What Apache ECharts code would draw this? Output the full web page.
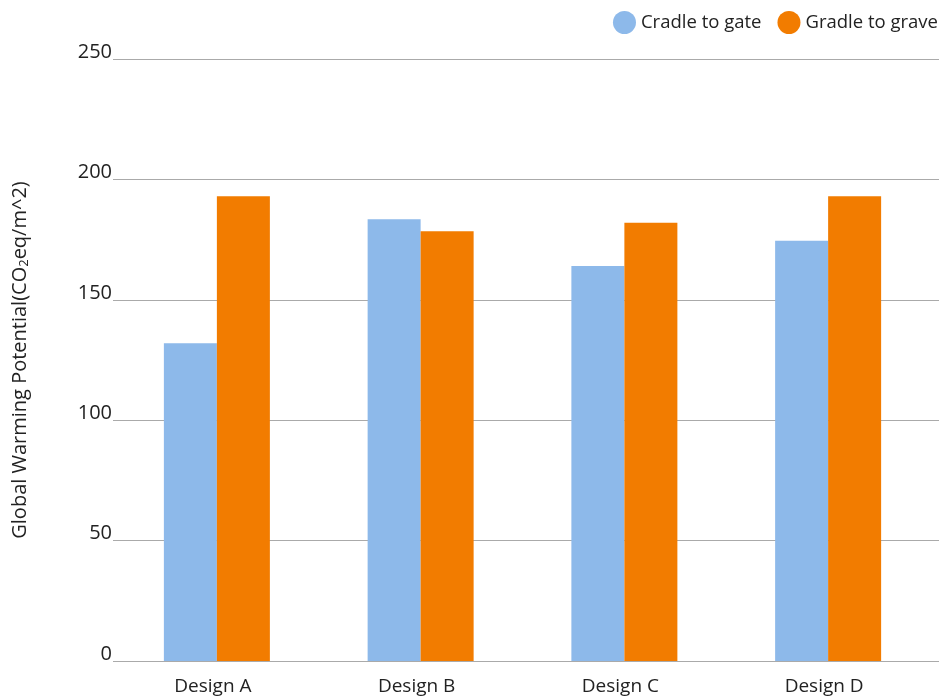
<!DOCTYPE html>
<html>
<head>
<meta charset="utf-8">
<script src="https://cdn.jsdelivr.net/npm/echarts@6/dist/echarts.min.js"></script>
<style>
  html, body { margin: 0; padding: 0; background: #fff; }
  #chart { width: 944px; height: 698px; }
</style>
</head>
<body>
<div id="chart"></div>
<script>
var categories = ['Design A', 'Design B', 'Design C', 'Design D'];
var cradleToGate = [132, 183.5, 164, 174.5];
var gradleToGrave = [193, 178.5, 182, 193];
var yTicks = [0, 50, 100, 150, 200, 250];

var chart = echarts.init(document.getElementById('chart'));

var option = {
    animation: false,
    textStyle: { fontFamily: 'Open Sans' },
    legend: {
        data: ['Cradle to gate', 'Gradle to grave'],
        right: 1,
        top: 6,
        icon: 'circle',
        itemWidth: 23,
        itemHeight: 23,
        itemGap: 16,
        textStyle: { fontSize: 18.5, color: '#222', fontFamily: 'Open Sans' }
    },
    grid: [
        // gridlines + y labels
        { left: 113, right: 5, top: 59, bottom: 37 },
        // bars
        { left: 115, right: 14, top: 59, bottom: 37 }
    ],
    xAxis: [
        { type: 'category', gridIndex: 0, data: categories, show: false },
        {
            type: 'category',
            gridIndex: 1,
            data: categories,
            axisLine: { show: false },
            axisTick: { show: false },
            axisLabel: { fontSize: 19, color: '#222', margin: 16, padding: [0, 8, 0, 0], fontFamily: 'Open Sans' }
        }
    ],
    yAxis: [
        {
            type: 'value',
            gridIndex: 0,
            min: yTicks[0],
            max: yTicks[yTicks.length - 1],
            interval: 50,
            name: 'Global Warming Potential(CO{sub|2}eq/m^2)',
            nameLocation: 'middle',
            nameGap: 82,
            nameTextStyle: {
                fontSize: 20,
                color: '#222',
                fontFamily: 'Open Sans',
                rich: { sub: { fontSize: 13, verticalAlign: 'bottom', padding: [9, 0, 0, 0], color: '#222' } }
            },
            axisLine: { show: false },
            axisTick: { show: false },
            axisLabel: { fontSize: 20, lineHeight: 14, color: '#222', margin: 1, verticalAlign: 'bottom', fontFamily: 'Open Sans' },
            splitLine: { lineStyle: { color: '#aaaaaa', width: 1 } }
        },
        {
            type: 'value',
            gridIndex: 1,
            min: yTicks[0],
            max: yTicks[yTicks.length - 1],
            interval: 50,
            show: false,
            splitLine: { show: false }
        }
    ],
    series: [
        {
            name: 'Cradle to gate',
            type: 'bar',
            xAxisIndex: 1,
            yAxisIndex: 1,
            data: cradleToGate,
            barWidth: 53,
            barGap: '0%',
            itemStyle: { color: '#8DB9EA' }
        },
        {
            name: 'Gradle to grave',
            type: 'bar',
            xAxisIndex: 1,
            yAxisIndex: 1,
            data: gradleToGrave,
            barWidth: 53,
            barGap: '0%',
            itemStyle: { color: '#F27C00' }
        }
    ]
};

chart.setOption(option);
</script>
</body>
</html>
